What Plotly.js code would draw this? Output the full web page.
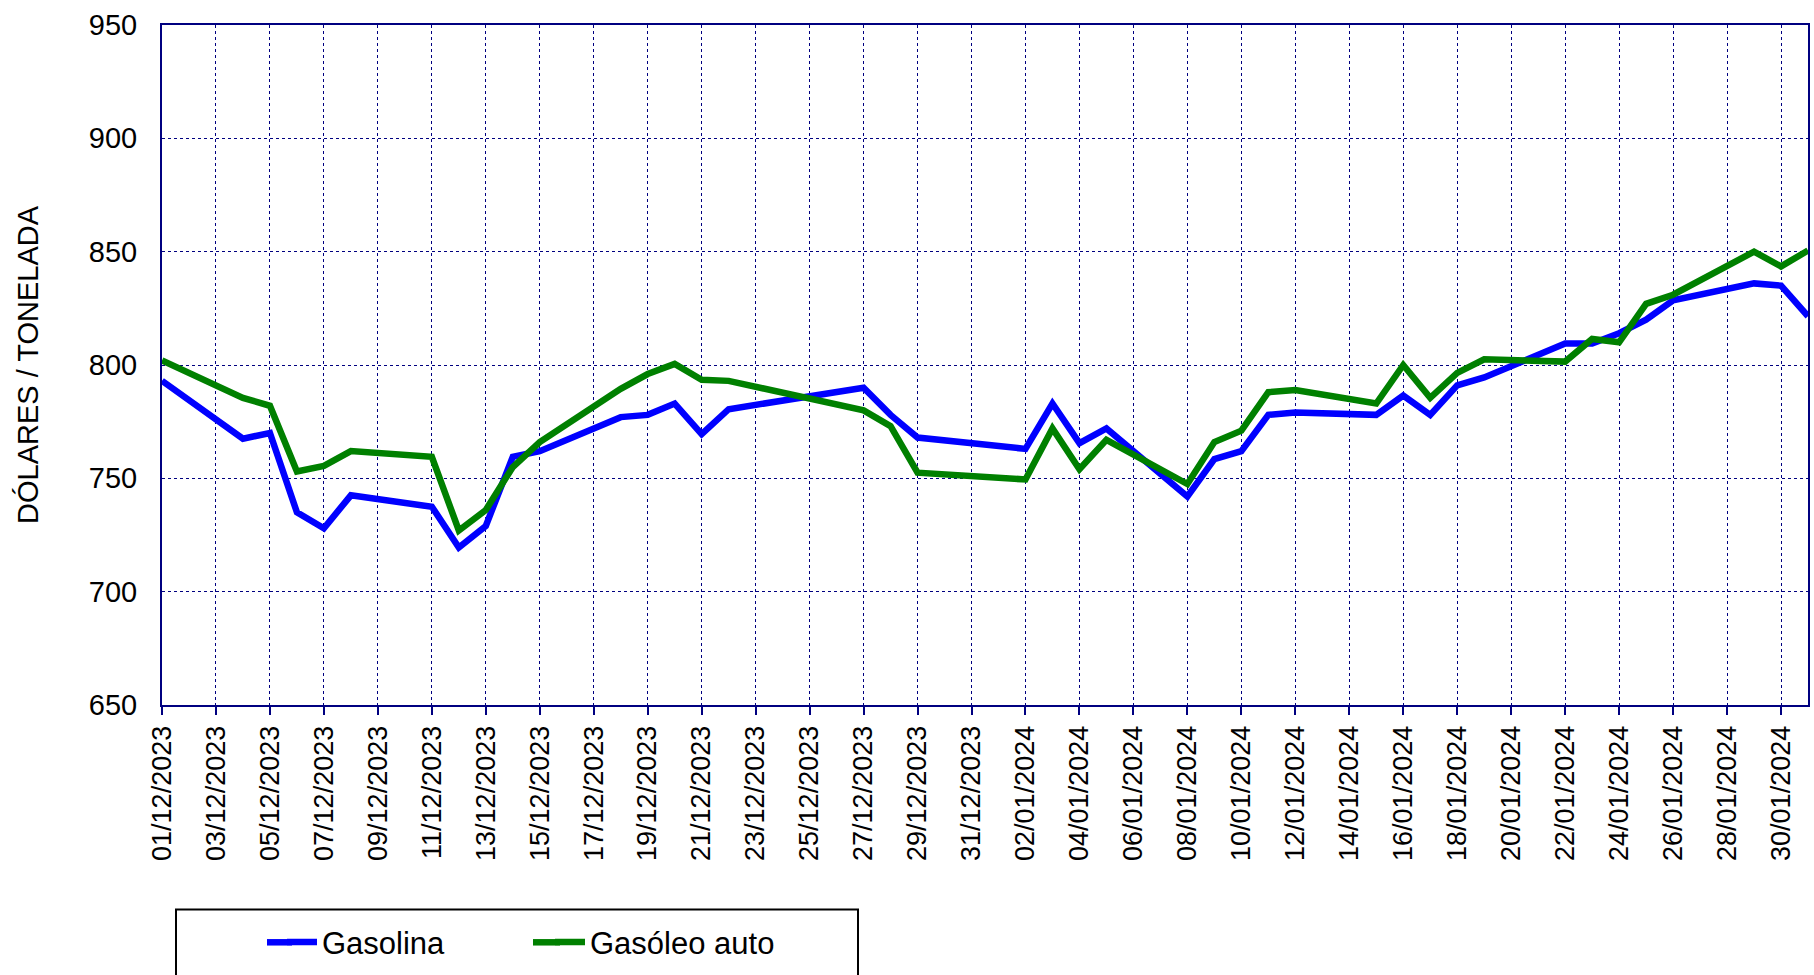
<!DOCTYPE html>
<html>
<head>
<meta charset="utf-8">
<script src="https://cdn.plot.ly/plotly-3.0.1.min.js"></script>
<style>
  html, body { margin: 0; padding: 0; background: #ffffff; }
  #chart { width: 1814px; height: 975px; }
</style>
</head>
<body>
<div id="chart"></div>
<script>
// ---- Data ----
const dates = [
  "2023-12-01","2023-12-04","2023-12-05","2023-12-06","2023-12-07","2023-12-08",
  "2023-12-11","2023-12-12","2023-12-13","2023-12-14","2023-12-15",
  "2023-12-18","2023-12-19","2023-12-20","2023-12-21","2023-12-22",
  "2023-12-27","2023-12-28","2023-12-29",
  "2024-01-02","2024-01-03","2024-01-04","2024-01-05",
  "2024-01-08","2024-01-09","2024-01-10","2024-01-11","2024-01-12",
  "2024-01-15","2024-01-16","2024-01-17","2024-01-18","2024-01-19",
  "2024-01-22","2024-01-23","2024-01-24","2024-01-25","2024-01-26",
  "2024-01-29","2024-01-30","2024-01-31"
];
const gasolina = [
  793, 767.5, 770, 735, 728, 742.5,
  737.5, 719.5, 729, 759.5, 762,
  777, 778, 783, 769.5, 780.5,
  790, 778, 768,
  763, 783, 765.5, 772,
  742, 758.5, 762, 778, 779,
  778, 786.5, 778, 791, 794.5,
  809.5, 809.5, 814, 820, 828.5,
  836, 835, 821.5
];
const gasoleoAuto = [
  802, 785.5, 782, 753, 755.5, 762,
  759.5, 727, 736, 755, 766,
  789.5, 796, 800.5, 793.5, 793,
  780, 773, 752.5,
  749.5, 772, 754, 767,
  747.5, 766, 771, 788, 789,
  783, 800, 785.5, 796.5, 802.5,
  801.5, 811.5, 810, 827, 831,
  850, 843.5, 850.5
];
const seriesNames = ["Gasolina", "Gasóleo auto"];
const seriesColors = ["#0000ff", "#008000"];
const yTitle = "DÓLARES / TONELADA";
const xRange = ["2023-12-01", "2024-01-31"];
const yRange = [650, 950];

// ---- Styling ----
const FONT = "Liberation Sans, Arial, sans-serif";
const NAVY = "#000080";

const traces = [
  { x: dates, y: gasolina, name: seriesNames[0], type: "scatter", mode: "lines",
    line: { color: seriesColors[0], width: 6.5 } },
  { x: dates, y: gasoleoAuto, name: seriesNames[1], type: "scatter", mode: "lines",
    line: { color: seriesColors[1], width: 6.5 } }
];

const W = 1814, H = 975;
const M = { l: 162, r: 6, t: 25, b: 268 };
const pw = W - M.l - M.r, ph = H - M.t - M.b;
const px2x = p => (p - M.l) / pw;
const px2y = p => (H - M.b - p) / ph;
const LEG_Y = 945;

const layout = {
  width: W, height: H,
  margin: { l: M.l, r: M.r, t: M.t, b: M.b, pad: 0 },
  paper_bgcolor: "#ffffff",
  plot_bgcolor: "#ffffff",
  font: { family: FONT, color: "#000000", size: 27 },
  showlegend: true,
  xaxis: {
    type: "date",
    range: xRange,
    tickmode: "linear",
    tick0: "2023-12-01",
    dtick: 2 * 86400000,
    tickformat: "%d/%m/%Y",
    tickangle: -90,
    ticks: "outside", ticklen: 8, tickwidth: 2, tickcolor: NAVY,
    showline: true, linecolor: NAVY, linewidth: 2, mirror: true,
    showgrid: true, gridcolor: NAVY, gridwidth: 1, griddash: "dot",
    zeroline: false,
    tickfont: { family: FONT, size: 27, color: "#000000" },
    fixedrange: true
  },
  yaxis: {
    range: yRange,
    tickmode: "linear", tick0: 650, dtick: 50,
    ticks: "",
    ticklabelstandoff: 17,
    showline: true, linecolor: NAVY, linewidth: 2, mirror: true,
    showgrid: true, gridcolor: NAVY, gridwidth: 1, griddash: "dot",
    zeroline: false,
    tickfont: { family: FONT, size: 29, color: "#000000" },
    fixedrange: true
  },
  yaxis2: {
    overlaying: "y", side: "right", anchor: "x",
    range: yRange, tickmode: "linear", tick0: 650, dtick: 50,
    ticks: "inside", ticklen: 9, tickwidth: 2, tickcolor: NAVY,
    showticklabels: false, showgrid: false, showline: false, zeroline: false,
    fixedrange: true
  },
  yaxis3: {
    overlaying: "y", side: "right", anchor: "x",
    range: yRange, tickmode: "linear", tick0: 650, dtick: 50,
    ticks: "outside", ticklen: 7, tickwidth: 2, tickcolor: NAVY,
    showticklabels: false, showgrid: false, showline: false, zeroline: false,
    fixedrange: true
  },
  legend: {
    orientation: "h",
    x: px2x(282), xanchor: "left",
    y: px2y(LEG_Y), yanchor: "middle",
    entrywidth: 223, entrywidthmode: "pixels",
    itemwidth: 30,
    bgcolor: "rgba(0,0,0,0)", borderwidth: 0,
    font: { family: FONT, size: 31, color: "#000000" }
  },
  shapes: [
    { type: "rect", xref: "paper", yref: "paper",
      x0: px2x(176), x1: px2x(858), y0: px2y(912), y1: px2y(1010),
      line: { color: "#000000", width: 2 }, fillcolor: "rgba(0,0,0,0)" },
    // lengthen the legend line samples to match the reference's longer keys
    { type: "line", xref: "paper", yref: "paper",
      x0: px2x(267), x1: px2x(292), y0: px2y(LEG_Y), y1: px2y(LEG_Y),
      line: { color: seriesColors[0], width: 6.5 } },
    { type: "line", xref: "paper", yref: "paper",
      x0: px2x(533), x1: px2x(560), y0: px2y(LEG_Y), y1: px2y(LEG_Y),
      line: { color: seriesColors[1], width: 6.5 } }
  ],
  annotations: [
    { text: yTitle, xref: "paper", yref: "paper",
      x: px2x(28), y: 0.5, xanchor: "center", yanchor: "middle",
      textangle: -90, showarrow: false,
      font: { family: FONT, size: 29, color: "#000000" } }
  ]
};

Plotly.newPlot("chart", traces, layout, { displayModeBar: false, staticPlot: true });
</script>
</body>
</html>
